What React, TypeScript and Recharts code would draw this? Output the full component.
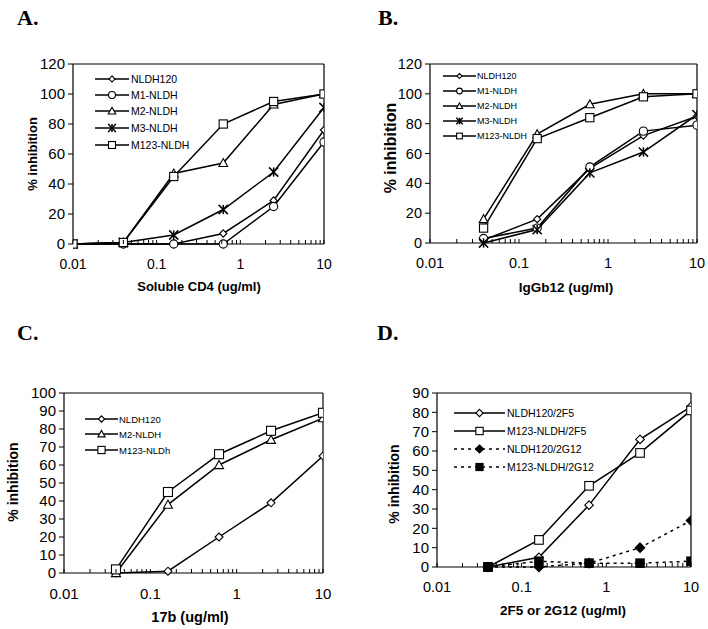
import { LineChart, Line, XAxis, YAxis, ReferenceLine } from "recharts";

const FONT = '"Liberation Sans", Arial, Helvetica, sans-serif';
const SERIF = '"Liberation Serif", "Times New Roman", serif';

// log axis ticks
const majorTicks = [0.01, 0.1, 1, 10];
const minorTicks = [
  0.02, 0.03, 0.04, 0.05, 0.06, 0.07, 0.08, 0.09,
  0.2, 0.3, 0.4, 0.5, 0.6, 0.7, 0.8, 0.9,
  2, 3, 4, 5, 6, 7, 8, 9,
];
const xTicks = [...majorTicks, ...minorTicks];

// A. soluble CD4
const dosesA = [0.01, 0.04, 0.16, 0.625, 2.5, 10];
const aNLDH120 = [0, 0, 0, 7, 29, 76];
const aM1 = [0, 0, 0, 0, 25, 68];
const aM2 = [0, 1, 47, 54, 93, 100];
const aM3 = [0, 1, 6, 23, 48, 91];
const aM123 = [0, 1, 45, 80, 95, 100];

// B. IgGb12
const dosesB = [0.04, 0.16, 0.625, 2.5, 10];
const bNLDH120 = [2, 16, 50, 72, 85];
const bM1 = [3, 10, 51, 75, 79];
const bM2 = [16, 73, 93, 100, 100];
const bM3 = [0, 9, 47, 61, 86];
const bM123 = [10, 70, 84, 98, 100];

// C. 17b
const dosesC = [0.04, 0.16, 0.625, 2.5, 10];
const cNLDH120 = [0, 1, 20, 39, 65];
const cM2 = [0, 38, 60, 74, 86];
const cM123 = [2, 45, 66, 79, 89];

// D. 2F5 / 2G12
const dosesD = [0.04, 0.16, 0.625, 2.5, 10];
const dNLDH120_2F5 = [0, 5, 32, 66, 83];
const dM123_2F5 = [0, 14, 42, 59, 81];
const dNLDH120_2G12 = [0, 0, 2, 10, 24];
const dM123_2G12 = [0, 3, 2, 2, 3];

const ticks120 = [0, 20, 40, 60, 80, 100, 120];
const ticks100 = [0, 10, 20, 30, 40, 50, 60, 70, 80, 90, 100];
const ticks90 = [0, 10, 20, 30, 40, 50, 60, 70, 80, 90];

type Shape = "diamond" | "circle" | "triangle" | "star" | "square" | "fdiamond" | "fsquare";

function Marker({ shape, cx, cy, s }: { shape: Shape; cx: number; cy: number; s: number }) {
  if (cx == null || cy == null) return null;
  const st = { stroke: "#000", strokeWidth: 1.1 };
  switch (shape) {
    case "diamond":
    case "fdiamond":
      return (
        <polygon
          points={`${cx},${cy - s} ${cx + s},${cy} ${cx},${cy + s} ${cx - s},${cy}`}
          fill={shape === "fdiamond" ? "#000" : "#fff"}
          {...st}
        />
      );
    case "circle":
      return <circle cx={cx} cy={cy} r={s} fill="#fff" {...st} />;
    case "triangle":
      return (
        <polygon
          points={`${cx},${cy - s} ${cx + s},${cy + s * 0.8} ${cx - s},${cy + s * 0.8}`}
          fill="#fff"
          {...st}
        />
      );
    case "star":
      return (
        <g stroke="#000" strokeWidth={1.5}>
          <line x1={cx - s} y1={cy - s} x2={cx + s} y2={cy + s} />
          <line x1={cx - s} y1={cy + s} x2={cx + s} y2={cy - s} />
          <line x1={cx} y1={cy - s} x2={cx} y2={cy + s} />
        </g>
      );
    case "square":
    case "fsquare":
      return (
        <rect
          x={cx - s}
          y={cy - s}
          width={2 * s}
          height={2 * s}
          fill={shape === "fsquare" ? "#000" : "#fff"}
          {...st}
        />
      );
  }
  return null;
}

interface SeriesDef {
  key: string;
  name: string;
  shape: Shape;
  size: number;
  dashed?: boolean;
}

function XTick(props: any) {
  const { x, y, payload, fontSize } = props;
  const v = payload.value;
  const major = majorTicks.includes(v);
  return (
    <g>
      <line x1={x} x2={x} y1={y} y2={y - 4} stroke="#000" />
      {major && (
        <text
          x={x}
          y={y + 20}
          textAnchor="middle"
          dominantBaseline="central"
          fontSize={fontSize}
          fontFamily={FONT}
          fill="#000"
        >
          {String(v)}
        </text>
      )}
    </g>
  );
}

interface PanelProps {
  left: number;
  top: number;
  height: number;
  margin: { top: number; right: number; bottom: number; left: number };
  data: any[];
  series: SeriesDef[];
  yMax: number;
  yTicks: number[];
  xFont: number;
  yFont: number;
}

function Panel({ left, top, height, margin, data, series, yMax, yTicks, xFont, yFont }: PanelProps) {
  return (
    <div style={{ position: "absolute", left, top }}>
      <LineChart width={354} height={height} data={data} margin={margin}>
        <XAxis
          dataKey="dose"
          type="number"
          scale="log"
          domain={[0.01, 10]}
          allowDataOverflow
          ticks={xTicks}
          interval={0}
          tickSize={0}
          tickMargin={0}
          tickLine={false}
          axisLine={{ stroke: "#000", strokeWidth: 1.2 }}
          height={40}
          tick={(p: any) => <XTick {...p} fontSize={xFont} />}
        />
        <YAxis
          type="number"
          domain={[0, yMax]}
          ticks={yTicks}
          interval={0}
          width={40}
          tickSize={5}
          tickMargin={3}
          tick={{ fontSize: yFont, fill: "#000", fontFamily: FONT }}
          tickLine={{ stroke: "#000" }}
          axisLine={{ stroke: "#000", strokeWidth: 1.2 }}
        />
        <ReferenceLine y={yMax} stroke="#000" strokeWidth={1.2} />
        <ReferenceLine x={10} stroke="#000" strokeWidth={1.2} />
        {series.map((s) => (
          <Line
            key={s.key}
            dataKey={s.key}
            type="linear"
            stroke="#000"
            strokeWidth={1.5}
            strokeDasharray={s.dashed ? "3 4" : undefined}
            dot={(p: any) => <Marker key={`${s.key}-${p.index}`} shape={s.shape} cx={p.cx} cy={p.cy} s={s.size} />}
            activeDot={false}
            isAnimationActive={false}
          />
        ))}
      </LineChart>
    </div>
  );
}

function LegendBox({
  x1, x2, textX, rows, fontSize, items, markerScale,
}: {
  x1: number; x2: number; textX: number; rows: number[]; fontSize: number; items: SeriesDef[]; markerScale: number;
}) {
  const mx = (x1 + x2) / 2;
  return (
    <g>
      {items.map((it, i) => (
        <g key={it.key}>
          <line
            x1={x1}
            x2={x2}
            y1={rows[i]}
            y2={rows[i]}
            stroke="#000"
            strokeWidth={1.6}
            strokeDasharray={it.dashed ? "3 4" : undefined}
          />
          <Marker shape={it.shape} cx={mx} cy={rows[i]} s={it.size * markerScale} />
          <text x={textX} y={rows[i]} dominantBaseline="central" fontSize={fontSize} fontFamily={FONT} fill="#000">
            {it.name}
          </text>
        </g>
      ))}
    </g>
  );
}

const seriesA: SeriesDef[] = [
  { key: "nldh", name: "NLDH120", shape: "diamond", size: 3.6 },
  { key: "m1", name: "M1-NLDH", shape: "circle", size: 4.1 },
  { key: "m2", name: "M2-NLDH", shape: "triangle", size: 4.4 },
  { key: "m3", name: "M3-NLDH", shape: "star", size: 4.6 },
  { key: "m123", name: "M123-NLDH", shape: "square", size: 4.1 },
];
const seriesC: SeriesDef[] = [
  { key: "nldh", name: "NLDH120", shape: "diamond", size: 4 },
  { key: "m2", name: "M2-NLDH", shape: "triangle", size: 4.5 },
  { key: "m123", name: "M123-NLDh", shape: "square", size: 4.5 },
];
const seriesD: SeriesDef[] = [
  { key: "n2f5", name: "NLDH120/2F5", shape: "diamond", size: 4.3 },
  { key: "m2f5", name: "M123-NLDH/2F5", shape: "square", size: 4.3 },
  { key: "n2g12", name: "NLDH120/2G12", shape: "fdiamond", size: 4.8, dashed: true },
  { key: "m2g12", name: "M123-NLDH/2G12", shape: "fsquare", size: 4.2, dashed: true },
];

const dataA = dosesA.map((d, i) => ({ dose: d, nldh: aNLDH120[i], m1: aM1[i], m2: aM2[i], m3: aM3[i], m123: aM123[i] }));
const dataB = dosesB.map((d, i) => ({ dose: d, nldh: bNLDH120[i], m1: bM1[i], m2: bM2[i], m3: bM3[i], m123: bM123[i] }));
const dataC = dosesC.map((d, i) => ({ dose: d, nldh: cNLDH120[i], m2: cM2[i], m123: cM123[i] }));
const dataD = dosesD.map((d, i) => ({
  dose: d, n2f5: dNLDH120_2F5[i], m2f5: dM123_2F5[i], n2g12: dNLDH120_2G12[i], m2g12: dM123_2G12[i],
}));

function Title({ x, y, children, size, vertical }: { x: number; y: number; children: string; size: number; vertical?: boolean }) {
  return (
    <text
      x={x}
      y={y}
      textAnchor="middle"
      dominantBaseline="central"
      fontSize={size}
      fontWeight="bold"
      fontFamily={FONT}
      fill="#000"
      transform={vertical ? `rotate(-90 ${x} ${y})` : undefined}
    >
      {children}
    </text>
  );
}

export default function App() {
  return (
    <div style={{ position: "absolute", left: 0, top: 0, width: 708, height: 629, background: "#fff" }}>
      <Panel left={0} top={0} height={315} margin={{ top: 64, right: 30, bottom: 31, left: 33 }}
        data={dataA} series={seriesA} yMax={120} yTicks={ticks120} xFont={14} yFont={15} />
      <Panel left={354} top={0} height={315} margin={{ top: 64, right: 11, bottom: 32, left: 36 }}
        data={dataB} series={seriesA} yMax={120} yTicks={ticks120} xFont={14.5} yFont={14.5} />
      <Panel left={0} top={315} height={314} margin={{ top: 78, right: 31, bottom: 16, left: 24 }}
        data={dataC} series={seriesC} yMax={100} yTicks={ticks100} xFont={15} yFont={15} />
      <Panel left={354} top={315} height={314} margin={{ top: 78, right: 17, bottom: 22, left: 43 }}
        data={dataD} series={seriesD} yMax={90} yTicks={ticks90} xFont={14.5} yFont={15} />

      <svg width={708} height={629} style={{ position: "absolute", left: 0, top: 0, pointerEvents: "none" }}>
        <text x={17} y={25} fontSize={22} fontWeight="bold" fontFamily={SERIF}>A.</text>
        <text x={378} y={25} fontSize={22} fontWeight="bold" fontFamily={SERIF}>B.</text>
        <text x={17} y={340} fontSize={22} fontWeight="bold" fontFamily={SERIF}>C.</text>
        <text x={377} y={340} fontSize={22} fontWeight="bold" fontFamily={SERIF}>D.</text>

        <Title x={199} y={286} size={13}>Soluble CD4 (ug/ml)</Title>
        <Title x={32} y={154} size={13} vertical>% inhibition</Title>
        <Title x={566} y={287} size={13.5}>IgGb12 (ug/ml)</Title>
        <Title x={390} y={148} size={16} vertical>% inhibition</Title>
        <Title x={190} y={617} size={14.5}>17b (ug/ml)</Title>
        <Title x={13} y={482} size={14} vertical>% inhibition</Title>
        <Title x={563} y={610} size={13.5}>2F5 or 2G12 (ug/ml)</Title>
        <Title x={394} y={484} size={14} vertical>% inhibition</Title>

        <LegendBox x1={95} x2={129} textX={131} rows={[79, 95, 111, 128, 145]} fontSize={10.5} items={seriesA} markerScale={0.85} />
        <LegendBox x1={443} x2={476} textX={477} rows={[76, 91, 106, 121, 136]} fontSize={9} items={seriesA} markerScale={0.7} />
        <LegendBox x1={85} x2={118} textX={119} rows={[419, 434, 450]} fontSize={9.5} items={seriesC} markerScale={0.8} />
        <LegendBox x1={454} x2={505} textX={507} rows={[413, 431, 449, 467]} fontSize={10.5} items={seriesD} markerScale={0.85} />
      </svg>
    </div>
  );
}
